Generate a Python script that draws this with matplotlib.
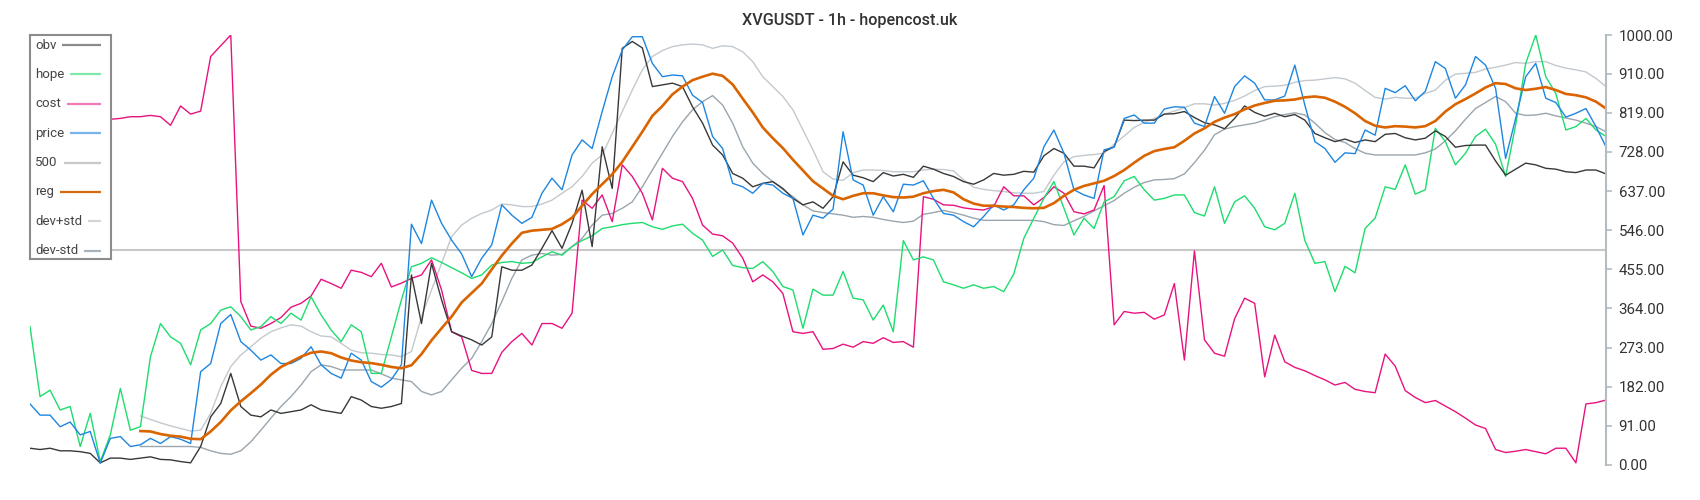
import numpy as np
import matplotlib.pyplot as plt

plt.rcParams['font.family'] = ['Roboto', 'DejaVu Sans']

nan = np.nan

# values (one point per ~10 px step)
obv = [39, 36, 39, 33, 33, 31, 27, 5, 16, 16, 13, 16, 19, 13, 12, 8, 5,
       43, 112, 143, 213, 136, 116, 112, 128, 120, 124, 128, 140, 128, 124, 120, 159, 151, 136, 132, 136, 143, 442,
       329, 469, 384, 310, 300, 291, 279, 298, 461, 453, 453, 465, 504, 545, 504, 562, 639, 508, 740, 643,
       969, 985, 970, 880, 884, 888, 880, 833, 795, 744, 721, 678, 667, 647, 655, 659, 643, 620, 605, 612,
       597, 624, 705, 674, 668, 659, 680, 672, 676, 669, 695, 688, 678, 671, 659, 653, 663, 678, 674, 676,
       683, 681, 719, 736, 725, 695, 695, 691, 729, 740, 802, 801, 802, 802, 816, 817, 822, 808, 796, 791,
       782, 806, 835, 820, 811, 818, 810, 815, 802, 771, 761, 752, 758, 750, 756, 752, 769, 771, 761, 756,
       760, 777, 764, 739, 743, 744, 744, 707, 674, 688, 702, 698, 690, 688, 682, 680, 686, 686, 677]

hope = [322, 159, 174, 128, 136, 43, 120, 8, 70, 178, 81, 89, 252, 329, 298, 283, 233,
        314, 329, 360, 368, 345, 314, 322, 345, 329, 353, 337, 391, 349, 314, 287, 326, 310, 213, 213, 298, 384, 461,
        469, 482, 471, 459, 447, 434, 442, 465, 471, 473, 469, 471, 484, 496, 488, 508, 522, 533, 550, 554,
        559, 562, 564, 554, 548, 556, 560, 539, 523, 485, 500, 464, 459, 457, 473, 450, 415, 407, 318, 409,
        395, 395, 450, 388, 384, 337, 372, 310, 522, 477, 484, 477, 426, 419, 411, 419, 411, 415, 403, 444,
        527, 574, 620, 659, 597, 535, 574, 550, 612, 624, 661, 671, 640, 616, 620, 628, 628, 587, 579, 647,
        562, 612, 626, 597, 554, 547, 562, 632, 522, 469, 473, 403, 462, 447, 550, 574, 647, 641, 698, 630,
        640, 783, 752, 698, 725, 764, 781, 746, 671, 791, 934, 1000, 903, 864, 779, 787, 806, 779, 764]

cost = [805, 805, 805, 805, 805, 805, 805, 805, 804, 806, 810, 810, 813, 810, 790, 835, 816,
        823, 950, 975, 1000, 380, 323, 318, 329, 343, 367, 376, 393, 432, 422, 411, 453, 448, 438, 469, 414, 423, 434,
        442, 477, 407, 310, 298, 220, 213, 213, 262, 287, 306, 279, 329, 329, 318, 353, 616, 597, 628, 566,
        698, 671, 632, 570, 690, 667, 659, 620, 558, 537, 533, 516, 481, 426, 442, 426, 399, 310, 306, 310,
        269, 271, 281, 274, 287, 283, 296, 285, 287, 274, 624, 618, 605, 604, 598, 595, 593, 601, 647, 626,
        626, 605, 622, 647, 632, 589, 584, 593, 650, 326, 357, 353, 355, 339, 349, 422, 244, 498, 291, 260,
        253, 340, 388, 376, 205, 302, 240, 227, 219, 208, 198, 186, 192, 176, 171, 168, 258, 230, 173, 157,
        145, 150, 137, 124, 109, 93, 85, 36, 29, 32, 36, 31, 26, 39, 39, 5, 142, 145, 151]

price = [142, 116, 116, 89, 100, 70, 78, 4, 62, 66, 43, 47, 62, 50, 66, 60, 50,
         217, 236, 329, 350, 287, 267, 244, 256, 236, 236, 248, 275, 233, 213, 202, 260, 244, 194, 181, 199, 233, 560,
         515, 616, 562, 523, 491, 438, 481, 512, 605, 581, 562, 576, 632, 667, 640, 721, 756, 736, 822, 903,
         965, 996, 996, 934, 903, 907, 905, 860, 843, 764, 736, 655, 647, 632, 655, 651, 632, 620, 535, 581,
         574, 595, 775, 663, 651, 581, 624, 589, 653, 651, 661, 620, 585, 581, 566, 554, 578, 605, 593, 605,
         640, 667, 740, 779, 725, 640, 628, 620, 733, 739, 806, 814, 795, 795, 828, 833, 832, 795, 787, 857,
         818, 880, 905, 888, 849, 849, 858, 930, 837, 752, 736, 704, 726, 724, 779, 767, 876, 866, 882, 847,
         869, 938, 922, 853, 884, 950, 930, 876, 713, 806, 903, 934, 853, 843, 809, 818, 829, 787, 740]

reg = [nan] * 11 + [
    79, 78, 72, 68, 66, 61, 60, 78, 100, 127, 148, 167, 187, 210, 228, 240, 252, 261, 264, 260, 250, 243, 239, 237, 233, 228, 225, 232,
    258, 290, 318, 345, 378, 400, 422, 455, 487, 515, 540, 545, 547, 549, 560, 575, 603, 630, 653, 676,
    705, 740, 775, 812, 835, 862, 880, 895, 903, 910, 905, 885, 852, 820, 785, 760, 737, 710, 685, 660,
    643, 626, 618, 626, 632, 632, 627, 623, 622, 624, 632, 637, 640, 634, 618, 608, 603, 603, 601, 600,
    598, 597, 598, 609, 626, 640, 649, 655, 661, 672, 686, 703, 719, 730, 735, 739, 754, 771, 783, 798,
    808, 816, 827, 836, 842, 847, 848, 850, 855, 857, 854, 845, 833, 818, 800, 789, 785, 788, 787, 785,
    788, 800, 822, 839, 851, 864, 878, 888, 886, 876, 872, 875, 879, 872, 863, 860, 855, 845, 829]

dev_plus = [nan] * 11 + [
    114, 106, 98, 91, 85, 79, 81, 120, 182, 229, 256, 275, 295, 310, 319, 326, 323, 310, 300, 298, 283, 267, 261, 260, 257, 256, 252, 264,
    345, 407, 469, 531, 558, 574, 585, 593, 607, 605, 601, 601, 607, 616, 632, 647, 671, 702, 721, 771,
    822, 872, 919, 950, 964, 973, 977, 979, 977, 969, 975, 973, 961, 938, 903, 880, 857, 826, 779, 733,
    682, 665, 662, 680, 686, 686, 685, 682, 682, 682, 686, 688, 687, 684, 663, 646, 641, 638, 636, 633,
    632, 632, 636, 674, 705, 717, 720, 722, 725, 746, 765, 785, 797, 806, 816, 823, 831, 840, 840, 837,
    841, 848, 858, 871, 880, 881, 883, 890, 894, 895, 898, 901, 898, 888, 871, 855, 851, 855, 853, 853,
    864, 872, 895, 909, 911, 913, 921, 925, 930, 936, 934, 938, 938, 929, 923, 919, 914, 899, 880]

dev_minus = [nan] * 11 + [
    43, 43, 43, 43, 43, 43, 41, 33, 27, 25, 33, 54, 81, 109, 136, 159, 186, 217, 233, 229, 221, 221, 221, 221, 212, 202, 198, 194,
    171, 163, 171, 198, 225, 248, 287, 329, 380, 434, 477, 488, 492, 488, 490, 508, 527, 558, 581, 585,
    597, 612, 647, 686, 725, 764, 798, 826, 845, 859, 837, 795, 740, 702, 678, 659, 641, 624, 605, 591,
    587, 584, 581, 576, 578, 576, 571, 567, 564, 567, 583, 587, 592, 587, 581, 574, 569, 569, 569, 569,
    569, 569, 566, 559, 557, 568, 578, 591, 603, 615, 632, 646, 657, 663, 664, 666, 677, 703, 732, 768,
    781, 787, 791, 795, 802, 810, 815, 819, 814, 795, 773, 757, 750, 736, 725, 721, 721, 721, 721, 721,
    726, 735, 754, 777, 804, 829, 843, 857, 845, 818, 813, 814, 818, 812, 807, 802, 795, 787, 775]

yticks = [0, 91, 182, 273, 364, 455, 546, 637, 728, 819, 910, 1000]
labels = ['obv', 'hope', 'cost', 'price', '500', 'reg', 'dev+std', 'dev-std']
leg_colors = ['#8a8a8a', '#80e8a8', '#f07ab8', '#78b4ec', '#c8c8c8', '#d86a10', '#d2d6da', '#a8b4bc']

x = np.arange(len(price))

fig = plt.figure(figsize=(17, 5), dpi=100)
ax = fig.add_axes([30 / 1700, 35 / 500, 1576 / 1700, 430 / 500])

ax.axhline(500, color='#c8c8c8', lw=1.5, zorder=1)
ax.plot(x, dev_plus, color='#c3c9ce', lw=1.0)
ax.plot(x, dev_minus, color='#9aa5ad', lw=1.0)
ax.plot(x, cost, color='#e8127f', lw=1.0)
ax.plot(x, hope, color='#1edc6e', lw=1.0)
ax.plot(x, obv, color='#383838', lw=1.0)
ax.plot(x, price, color='#1e86e0', lw=1.0)
ax.plot(x, reg, color='#d96400', lw=1.9)

ax.set_xlim(0, len(price) - 1)
ax.set_ylim(0, 1000)
ax.set_xticks([])
ax.yaxis.tick_right()
ax.set_yticks(yticks)
ax.set_yticklabels(['%.2f' % t for t in yticks])
ax.tick_params(axis='y', length=4, width=1.2, color='#b4bcc1',
               labelcolor='#333333', labelsize=10.8, pad=5)
for s in ['left', 'top', 'bottom']:
    ax.spines[s].set_visible(False)
ax.spines['right'].set_color('#b4bcc1')
ax.spines['right'].set_linewidth(1.5)

fig.text(0.5, 1 - 20 / 500, 'XVGUSDT - 1h - hopencost.uk', ha='center', va='center',
         fontsize=11.6, color='#333333', fontweight='medium')

# legend box drawn by hand: text on the left, line sample on the right
lax = fig.add_axes([30 / 1700, 241 / 500, 81 / 1700, 224 / 500])
lax.set_xlim(0, 81)
lax.set_ylim(224, 0)
lax.set_xticks([])
lax.set_yticks([])
for s in lax.spines.values():
    s.set_color('#8c8c8c')
    s.set_linewidth(1.5)
texts = []
for i, lab in enumerate(labels):
    texts.append(lax.text(5, 10 + i * 29.4, lab, va='center', ha='left',
                          fontsize=9.5, color='#444444'))
fig.canvas.draw()
inv = lax.transData.inverted()
for i, t in enumerate(texts):
    bb = t.get_window_extent()
    x_end = inv.transform((bb.x1, bb.y0))[0]
    yy = 10 + i * 29.4
    lax.plot([x_end + 6, 71], [yy, yy], color=leg_colors[i], lw=1.6,
             solid_capstyle='butt')

fig.savefig('out.png', dpi=100)
